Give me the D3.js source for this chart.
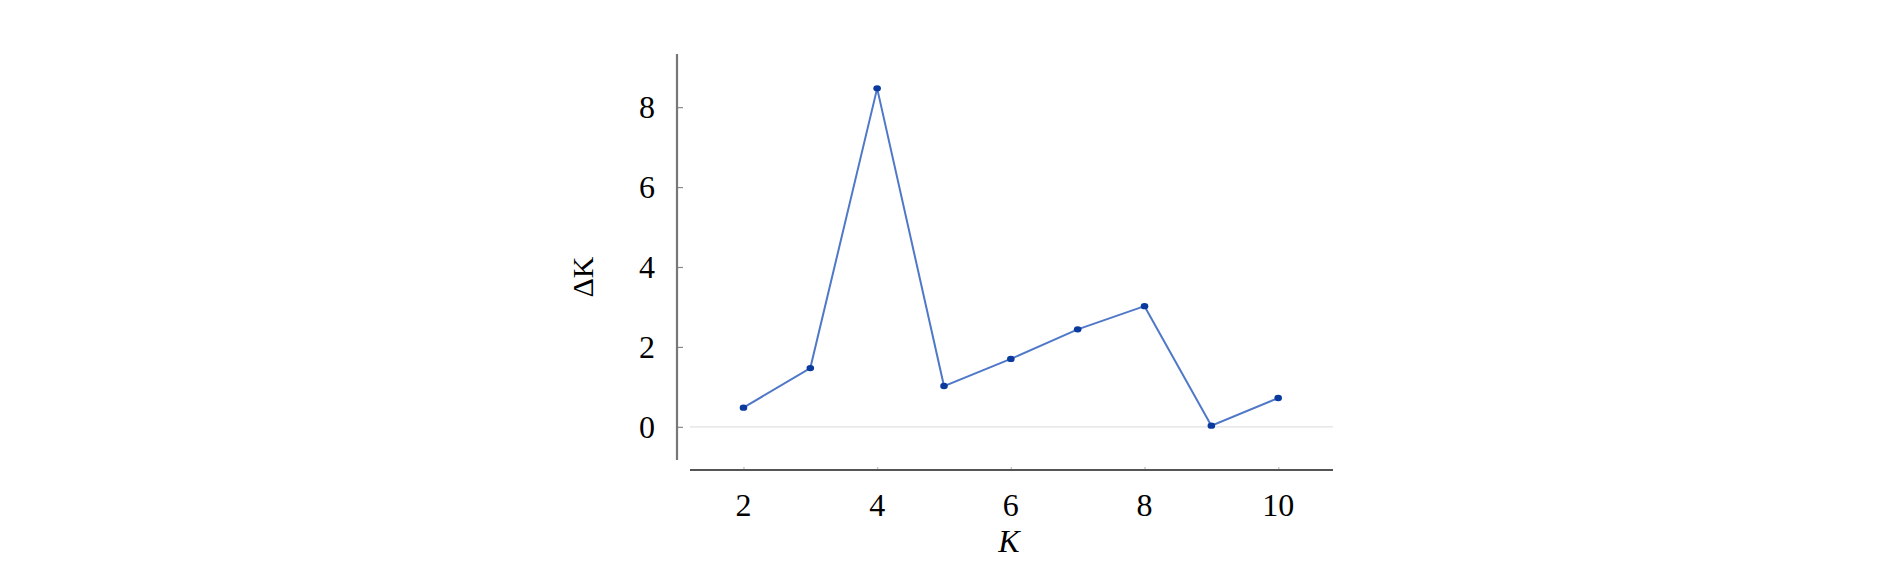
<!DOCTYPE html>
<html><head><meta charset="utf-8">
<script src="https://cdn.jsdelivr.net/npm/d3@7"></script>
<style>html,body{margin:0;padding:0;background:#fff;}svg{display:block;} text{font-family:"Times New Roman","Liberation Serif",serif;}</style>
</head><body>
<script>
const kValues = [2, 3, 4, 5, 6, 7, 8, 9, 10];
const deltaK = [0.48, 1.47, 8.47, 1.02, 1.70, 2.44, 3.02, 0.03, 0.72];
const xTicks = [2, 4, 6, 8, 10];
const yTicks = [0, 2, 4, 6, 8];
const xLabel = "K";
const yLabel = "ΔK";

const W = 1890, H = 575;
const svg = d3.select("body").append("svg").attr("width", W).attr("height", H);

const x = d3.scaleLinear().domain([1.2, 10.82]).range([690, 1333]);
const y = d3.scaleLinear().domain([-0.83, 9.33]).range([460, 54]);

// zero gridline
svg.append("line").attr("x1", x.range()[0]).attr("x2", x.range()[1])
  .attr("y1", y(0)).attr("y2", y(0)).attr("stroke", "#e2e2e2").attr("stroke-width", 1.2);

// y axis
const yAx = svg.append("g").attr("transform", "translate(677,0)")
  .call(d3.axisRight(y).tickValues(yTicks).tickSize(6).tickFormat(""));
yAx.select(".domain").remove();
yAx.selectAll(".tick line").attr("stroke", "#888").attr("stroke-width", 1.2);
svg.append("line").attr("x1", 677).attr("x2", 677).attr("y1", y.range()[1]).attr("y2", y.range()[0])
  .attr("stroke", "#777").attr("stroke-width", 2.2);
svg.append("g").selectAll("text").data(yTicks).join("text")
  .attr("x", 655).attr("y", d => y(d)).attr("dy", "0.34em")
  .attr("text-anchor", "end").attr("font-size", 32)
  .attr("fill", "#000").text(d => d);

// x axis
const xAx = svg.append("g").attr("transform", "translate(0,470)")
  .call(d3.axisTop(x).tickValues(xTicks).tickSize(3).tickFormat(""));
xAx.select(".domain").remove();
xAx.selectAll(".tick line").attr("stroke", "#c8c8c8").attr("stroke-width", 1.5);
svg.append("line").attr("x1", x.range()[0]).attr("x2", x.range()[1]).attr("y1", 470).attr("y2", 470)
  .attr("stroke", "#555").attr("stroke-width", 2);
svg.append("g").selectAll("text").data(xTicks).join("text")
  .attr("x", d => x(d)).attr("y", 516)
  .attr("text-anchor", "middle").attr("font-size", 32)
  .attr("fill", "#000").text(d => d);

// axis titles
svg.append("text").attr("x", 1009).attr("y", 552).attr("text-anchor", "middle")
  .attr("font-size", 32).attr("font-style", "italic").text(xLabel);
svg.append("text").attr("transform", "translate(593,277) rotate(-90)").attr("text-anchor", "middle")
  .attr("font-size", 30).text(yLabel);

// line
const pts = kValues.map((k, i) => [k, deltaK[i]]);
svg.append("path").datum(pts)
  .attr("d", d3.line().x(d => x(d[0])).y(d => y(d[1])))
  .attr("fill", "none").attr("stroke", "#5078c8").attr("stroke-width", 2);
svg.append("g").selectAll("ellipse").data(pts).join("ellipse")
  .attr("cx", d => x(d[0])).attr("cy", d => y(d[1])).attr("rx", 3.8).attr("ry", 3.2)
  .attr("fill", "#0a3a9e");
</script>
</body></html>
